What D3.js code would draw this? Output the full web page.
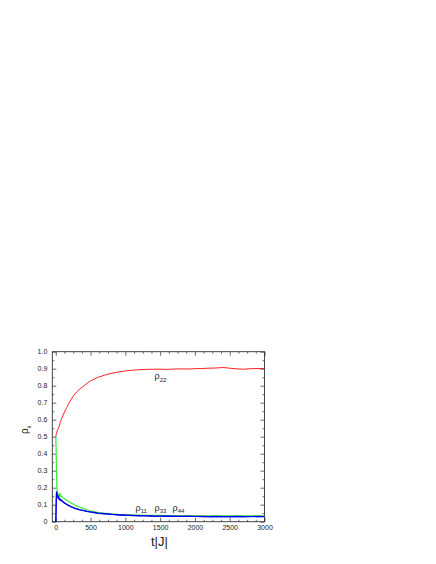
<!DOCTYPE html>
<html>
<head>
<meta charset="utf-8">
<script src="https://cdn.jsdelivr.net/npm/d3@7"></script>
<style>
  body { margin: 0; background: #fff; }
  svg text { font-family: "Liberation Sans", Arial, sans-serif; fill: #222; }
</style>
</head>
<body>
<div id="chart"></div>
<script>
// time axis t|J|
var times = [0, 5, 10, 15, 20, 30, 40, 50, 60, 70, 80, 100, 120, 140, 160, 180, 200, 225, 250, 275,
  300, 350, 400, 450, 500, 550, 600, 700, 800, 900, 1000, 1100, 1200, 1300, 1400, 1500, 1600, 1700,
  1800, 1900, 2000, 2100, 2200, 2300, 2400, 2500, 2600, 2700, 2800, 2900, 3000];

var rho22 = [0.500, 0.510, 0.518, 0.527, 0.534, 0.545, 0.552, 0.563, 0.578, 0.590, 0.602, 0.622, 0.640,
  0.658, 0.673, 0.690, 0.705, 0.722, 0.738, 0.751, 0.763, 0.782, 0.798, 0.814, 0.829, 0.838, 0.848,
  0.862, 0.873, 0.881, 0.887, 0.891, 0.894, 0.896, 0.897, 0.897, 0.896, 0.898, 0.899, 0.898, 0.900,
  0.901, 0.903, 0.904, 0.907, 0.903, 0.899, 0.897, 0.900, 0.901, 0.901];

var rho33 = [0.500, 0.420, 0.300, 0.210, 0.170, 0.150, 0.162, 0.150, 0.168, 0.148, 0.152, 0.140, 0.138,
  0.130, 0.126, 0.119, 0.116, 0.108, 0.104, 0.098, 0.093, 0.085, 0.077, 0.069, 0.063, 0.059, 0.055,
  0.050, 0.046, 0.043, 0.041, 0.040, 0.039, 0.038, 0.037, 0.037, 0.036, 0.036, 0.035, 0.036, 0.035,
  0.035, 0.034, 0.035, 0.034, 0.034, 0.035, 0.034, 0.034, 0.035, 0.034];

var rho11 = [0.000, 0.090, 0.170, 0.176, 0.160, 0.140, 0.150, 0.130, 0.135, 0.125, 0.128, 0.118, 0.112,
  0.108, 0.100, 0.097, 0.092, 0.088, 0.083, 0.079, 0.075, 0.070, 0.065, 0.061, 0.058, 0.054, 0.051,
  0.047, 0.043, 0.041, 0.038, 0.037, 0.035, 0.034, 0.033, 0.033, 0.032, 0.032, 0.031, 0.032, 0.031,
  0.031, 0.030, 0.031, 0.030, 0.030, 0.031, 0.030, 0.030, 0.031, 0.030];

var rho44 = [0.000, 0.080, 0.160, 0.170, 0.150, 0.145, 0.138, 0.135, 0.128, 0.130, 0.122, 0.120, 0.110,
  0.106, 0.102, 0.095, 0.093, 0.086, 0.084, 0.078, 0.076, 0.069, 0.066, 0.060, 0.057, 0.055, 0.050,
  0.046, 0.044, 0.040, 0.039, 0.036, 0.035, 0.035, 0.033, 0.032, 0.033, 0.031, 0.032, 0.031, 0.031,
  0.030, 0.031, 0.030, 0.030, 0.031, 0.030, 0.030, 0.031, 0.030, 0.031];

var xTicks = [0, 500, 1000, 1500, 2000, 2500, 3000];
var yTicks = [0, 0.1, 0.2, 0.3, 0.4, 0.5, 0.6, 0.7, 0.8, 0.9, 1.0];
var yTickLabels = ["0", "0.1", "0.2", "0.3", "0.4", "0.5", "0.6", "0.7", "0.8", "0.9", "1.0"];

var W = 436, H = 564;
var margin = {left: 52.3, top: 351.7};
var pw = 212.2, ph = 170;

var svg = d3.select("#chart").append("svg")
  .attr("width", W).attr("height", H);

var g = svg.append("g")
  .attr("transform", "translate(" + margin.left + "," + margin.top + ")");

var x = d3.scaleLinear().domain([-50, 3000]).range([0, pw]);
var y = d3.scaleLinear().domain([0, 1]).range([ph, 0]);

//minor ticks
var xMinor = d3.range(0, 3001, 125).filter(function(v) { return v % 500 != 0; });
var yMinor = d3.range(0.05, 1, 0.1);

function styleAxis(sel) {
  sel.select(".domain").remove();
  sel.selectAll("line").attr("stroke", "#444").attr("stroke-width", 0.8);
  sel.selectAll("text").attr("font-size", 7).style("fill", "#222");
}

// bottom
g.append("g").attr("transform", "translate(0," + ph + ")")
  .call(d3.axisBottom(x).tickValues(xTicks).tickSize(-4).tickPadding(3).tickFormat(d3.format("d")))
  .call(styleAxis);
g.append("g").attr("transform", "translate(0," + ph + ")")
  .call(d3.axisBottom(x).tickValues(xMinor).tickSize(-2).tickFormat(""))
  .call(styleAxis);
// top
g.append("g")
  .call(d3.axisTop(x).tickValues(xTicks).tickSize(-4).tickFormat(""))
  .call(styleAxis);
g.append("g")
  .call(d3.axisTop(x).tickValues(xMinor).tickSize(-2).tickFormat(""))
  .call(styleAxis);
// left
g.append("g")
  .call(d3.axisLeft(y).tickValues(yTicks).tickSize(-4).tickPadding(5)
    .tickFormat(function(d, i) { return yTickLabels[i]; }))
  .call(styleAxis);
g.append("g")
  .call(d3.axisLeft(y).tickValues(yMinor).tickSize(-2).tickFormat(""))
  .call(styleAxis);
// right
g.append("g").attr("transform", "translate(" + pw + ",0)")
  .call(d3.axisRight(y).tickValues(yTicks).tickSize(-4).tickFormat(""))
  .call(styleAxis);
g.append("g").attr("transform", "translate(" + pw + ",0)")
  .call(d3.axisRight(y).tickValues(yMinor).tickSize(-2).tickFormat(""))
  .call(styleAxis);

// frame
g.append("rect")
  .attr("x", 0).attr("y", 0).attr("width", pw).attr("height", ph)
  .attr("fill", "none").attr("stroke", "#333").attr("stroke-width", 0.9);

var line = d3.line()
  .x(function(d, i) { return x(times[i]); })
  .y(function(d) { return y(d); });

var series = [
  {vals: rho22, color: "#ff2020", w: 1},
  {vals: rho33, color: "#33ee33", w: 1.2},
  {vals: rho11, color: "#1a1ad0", w: 1.3},
  {vals: rho44, color: "#0000ff", w: 1.1}
];

g.selectAll("path.series")
  .data(series)
  .enter()
  .append("path")
    .attr("class", "series")
    .attr("d", function(d) { return line(d.vals); })
    .attr("fill", "none")
    .attr("stroke", function(d) { return d.color; })
    .attr("stroke-width", function(d) { return d.w; })
    .attr("stroke-linejoin", "round");

// curve labels
function rhoLabel(px, py, sub) {
  var t = svg.append("text")
    .attr("x", px).attr("y", py)
    .attr("font-size", 9);
  t.append("tspan").text("ρ");
  t.append("tspan").attr("font-size", 6).attr("dy", 2.5).text(sub);
}
rhoLabel(154.5, 379, "22");
rhoLabel(135.5, 510.5, "11");
rhoLabel(154.5, 510.5, "33");
rhoLabel(172.5, 510.5, "44");

// axis titles
svg.append("text")
  .attr("x", 151).attr("y", 546)
  .attr("font-size", 13)
  .text("t|J|");

var yl = svg.append("text")
  .attr("transform", "translate(28,434) rotate(-90)")
  .attr("font-size", 10);
yl.append("tspan").text("ρ");
yl.append("tspan").attr("font-size", 6).attr("dy", 2.5).text("ii");
</script>
</body>
</html>
